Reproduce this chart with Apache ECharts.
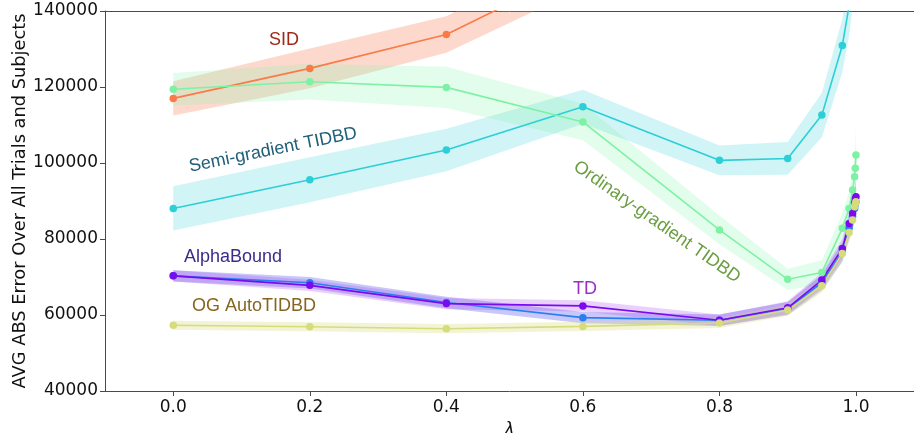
<!DOCTYPE html>
<html>
<head>
<meta charset="utf-8">
<script src="https://cdn.jsdelivr.net/npm/echarts@6/dist/echarts.min.js"></script>
<style>html,body{margin:0;padding:0;background:#fff}#c{width:914px;height:433px}</style>
</head>
<body>
<div id="c"></div>
<script>
// ---- data ----
var lambdas = [0, 0.2, 0.4, 0.6, 0.8, 0.9, 0.95, 0.98, 0.99, 0.995, 0.998, 0.999, 1.0];
var xTicks = [0.0, 0.2, 0.4, 0.6, 0.8, 1.0];
var yTicks = [40000, 60000, 80000, 100000, 120000, 140000];

var sidMean  = [117000, 124900, 133800, 151500, 168000, 175000, 182000, 190000, 195000, 200000, 205000, 208000, 210000];
var sidSd    = [4500, 5200, 4800, 5500, 6000, 6000, 6500, 7000, 7000, 7500, 7500, 8000, 8000];

var semiMean = [88050, 95600, 103400, 114800, 100700, 101200, 112600, 130900, 141500, 150000, 160000, 165000, 170000];
var semiSd   = [5800, 5900, 5600, 4500, 3900, 4300, 5800, 7000, 8000, 9000, 9000, 9500, 10000];

var ordMean  = [119400, 121400, 119900, 110800, 82400, 69400, 71200, 82800, 88000, 92900, 96400, 98600, 102100];
var ordSd    = [4300, 4700, 5400, 4800, 3800, 2800, 3200, 4000, 4500, 5000, 6000, 7000, 7500];

var abMean   = [70300, 68500, 63300, 59300, 58600, 61700, 68500, 76500, 83000, 86000, 88000, 89000, 89800];
var abSd     = [1500, 1500, 1500, 1500, 1500, 1700, 2000, 2500, 3000, 3500, 3500, 4000, 4000];

var tdMean   = [70300, 67800, 63000, 62400, 58600, 61900, 69200, 77500, 84100, 86700, 89500, 90500, 91100];
var tdSd     = [1500, 1500, 1500, 1500, 1500, 1700, 2000, 2500, 3000, 3500, 4000, 4500, 4500];

var ogMean   = [57300, 56900, 56400, 57000, 57900, 61300, 67700, 76200, 81700, 85000, 88500, 89300, 89800];
var ogSd     = [1200, 1200, 1200, 1200, 1300, 1500, 1800, 2200, 2500, 3000, 3000, 3500, 3500];

var labels = ['SID', 'Semi-gradient TIDBD', 'Ordinary-gradient TIDBD', 'AlphaBound', 'TD', 'OG AutoTIDBD'];

// ---- build ----
function pairs(m) { return lambdas.map(function (l, i) { return [l, m[i]]; }); }
function band(name, m, s, fill) {
  return {
    type: 'custom', name: name + ' band', clip: true, silent: true, z: 1,
    data: [[0, 0]],
    renderItem: function (params, api) {
      var pts = [];
      for (var i = 0; i < lambdas.length; i++) pts.push(api.coord([lambdas[i], m[i] + s[i]]));
      for (var j = lambdas.length - 1; j >= 0; j--) pts.push(api.coord([lambdas[j], m[j] - s[j]]));
      return { type: 'polygon', shape: { points: pts }, style: { fill: fill, stroke: null } };
    }
  };
}
function line(name, m, color) {
  return {
    type: 'line', name: name, data: pairs(m), clip: true, z: 3,
    symbol: 'circle', symbolSize: 7.5, showSymbol: true,
    lineStyle: { color: color, width: 1.6 },
    itemStyle: { color: color }
  };
}

var series = [
  band('SID', sidMean, sidSd, 'rgba(250,130,90,0.30)'),
  band('Semi', semiMean, semiSd, 'rgba(44,207,214,0.22)'),
  band('Ord', ordMean, ordSd, 'rgba(128,245,168,0.22)'),
  band('AB', abMean, abSd, 'rgba(80,80,235,0.32)'),
  band('TD', tdMean, tdSd, 'rgba(170,70,240,0.25)'),
  band('OG', ogMean, ogSd, 'rgba(214,220,124,0.32)'),
  line(labels[0], sidMean, '#fa7a48'),
  line(labels[1], semiMean, '#2ccfd6'),
  line(labels[2], ordMean, '#7ef2a4'),
  line(labels[3], abMean, '#2a7ff0'),
  line(labels[4], tdMean, '#7a0af0'),
  line(labels[5], ogMean, '#d6dc7c')
];

var spine = '#4a4a4a';
var lblFont = 'Liberation Sans, Arial, sans-serif';
function txt(s, x, y, color, rot) {
  return {
    type: 'text', x: x, y: y, rotation: rot || 0, z: 10,
    style: { text: s, fill: color, font: '18px ' + lblFont, align: 'center', verticalAlign: 'middle' }
  };
}

var chart = echarts.init(document.getElementById('c'), null, { renderer: 'canvas' });
chart.setOption({
  animation: false,
  backgroundColor: '#fff',
  grid: { left: 105, right: 0, top: 11, bottom: 42, containLabel: false, outerBoundsMode: 'none' },
  xAxis: [{
    type: 'value', min: -0.1, max: 1.085,
    axisLine: { show: true, onZero: false, lineStyle: { color: spine, width: 1 } },
    axisTick: { show: true, length: 5, lineStyle: { color: spine }, customValues: xTicks },
    axisLabel: { color: '#111', fontSize: 17, fontFamily: 'DejaVu Sans', margin: 8,
      customValues: xTicks, formatter: function (v) { return v.toFixed(1); } },
    splitLine: { show: false },
    name: 'λ', nameLocation: 'middle', nameGap: 31, nameMoveOverlap: false,
    nameTextStyle: { color: '#111', fontSize: 17, fontFamily: 'DejaVu Sans', fontStyle: 'italic' }
  }, {
    type: 'value', position: 'top', min: -0.1, max: 1.085,
    axisLine: { show: true, onZero: false, lineStyle: { color: spine, width: 1 } },
    axisTick: { show: false }, axisLabel: { show: false }, splitLine: { show: false }
  }],
  yAxis: {
    type: 'value', min: 40000, max: 140000, interval: 20000,
    axisLine: { show: true, onZero: false, lineStyle: { color: spine, width: 1 } },
    axisTick: { show: true, length: 5, lineStyle: { color: spine } },
    axisLabel: { color: '#111', fontSize: 17, fontFamily: 'DejaVu Sans', margin: 7,
      formatter: function (v) { return String(v); } },
    splitLine: { show: false },
    name: 'AVG ABS Error Over All Trials and Subjects', nameLocation: 'middle', nameGap: 76, nameMoveOverlap: false,
    nameTextStyle: { color: '#111', fontSize: 17.8, fontFamily: 'DejaVu Sans' }
  },
  series: series,
  graphic: [
    txt(labels[0], 284, 40, '#a02818'),
    txt(labels[1], 273, 150, '#1f5f78', 0.2),
    txt(labels[2], 657, 222, '#6a9e40', -0.61),
    txt(labels[3], 233, 257, '#3a2c8a'),
    txt(labels[4], 585, 289, '#9a2ec8'),
    txt(labels[5], 254, 306, '#86661e')
  ]
});
</script>
</body>
</html>
